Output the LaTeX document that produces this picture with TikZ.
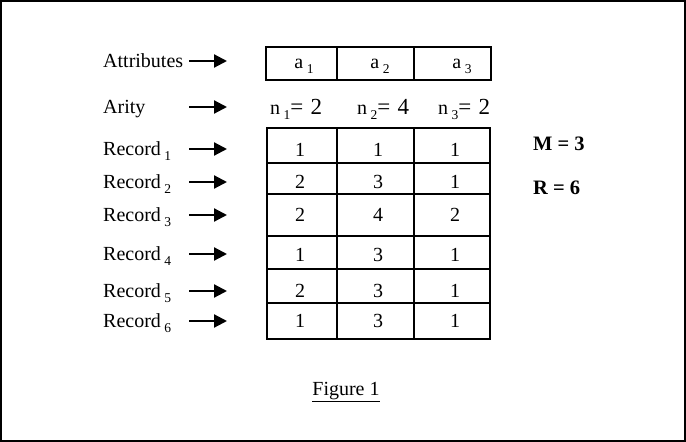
\documentclass[tikz,border=0pt]{standalone}
\usepackage{fontspec}
\setmainfont{Liberation Serif}
\usetikzlibrary{arrows.meta}
\newcommand{\mysub}[1]{\kern3.5pt\raisebox{-5.5pt}{\fontsize{13.5}{14}\selectfont #1}}
\newcommand{\myeq}[1]{{\fontsize{23}{23}\selectfont = \kern1.5pt#1}}
\tikzset{
  txt/.style={inner sep=0pt, font=\fontsize{20}{22}\selectfont},
  lbl/.style={txt, anchor=base west},
  val/.style={txt, anchor=base},
  arr/.style={line width=2.2pt, -{Triangle[length=13pt,width=13pt]}},
  thin/.style={line width=1.1pt},
  thick2/.style={line width=1.8pt},
}
\begin{document}
\begin{tikzpicture}[x=1pt,y=-1pt]
\useasboundingbox (0,0) rectangle (686,442);
\draw[line width=1.5pt] (0.75,0.75) rectangle (685,441);

% left labels
\node[lbl] (lA) at (103,67) {Attributes};
\node[lbl] (lN) at (103,113) {Arity};
\node[lbl] (l1) at (103,155) {Record\mysub{1}};
\node[lbl] (l2) at (103,188) {Record\mysub{2}};
\node[lbl] (l3) at (103,221) {Record\mysub{3}};
\node[lbl] (l4) at (103,260) {Record\mysub{4}};
\node[lbl] (l5) at (103,297) {Record\mysub{5}};
\node[lbl] (l6) at (103,327) {Record\mysub{6}};

% arrows
\foreach \n/\y in {A/61,N/107,1/149,2/182,3/215,4/254,5/291,6/321}{
  \coordinate (s\n) at (189,\y);
  \coordinate (e\n) at (227,\y);
  \draw[arr] (s\n) -- (e\n);
}

% attribute table
\draw[thin] (266,47) rectangle (491,80);
\draw[thick2] (266,80) -- (491,80);
\draw[thin] (337,47) -- (337,80);
\draw[thin] (414,47) -- (414,80);
\node[val] (a1) at (304,68) {a\mysub{1}};
\node[val] (a2) at (380,68) {a\mysub{2}};
\node[val] (a3) at (462,68) {a\mysub{3}};

% arity
\node[lbl] (n1) at (270,114) {n\mysub{1}\myeq{2}};
\node[lbl] (n2) at (357,114) {n\mysub{2}\myeq{4}};
\node[lbl] (n3) at (438,114) {n\mysub{3}\myeq{2}};

% data table
\draw[thin] (267,128) rectangle (490,339);
\draw[thick2] (267,128) -- (490,128);
\draw[thick2] (267,339) -- (490,339);
\draw[thin] (267,163) -- (490,163);
\draw[thin] (267,194) -- (490,194);
\draw[thin] (267,236) -- (490,236);
\draw[thick2] (267,269) -- (490,269);
\draw[thin] (267,303) -- (490,303);
\draw[thin] (337,128) -- (337,339);
\draw[thin] (414,128) -- (414,339);

\foreach \r/\y/\a/\b/\c in {1/156/1/1/1, 2/188/2/3/1, 3/221/2/4/2, 4/261/1/3/1, 5/297/2/3/1, 6/327/1/3/1}{
  \node[val] (c\r a) at (300,\y) {\a};
  \node[val] (c\r b) at (378,\y) {\b};
  \node[val] (c\r c) at (455,\y) {\c};
}

% M and R
\node[lbl, font=\fontsize{20.5}{22}\selectfont\bfseries] (M) at (533,150) {M = 3};
\node[lbl, font=\fontsize{20.5}{22}\selectfont\bfseries] (R) at (533,194) {R = 6};

% caption
\node[val] (fig) at (346,395) {\underline{Figure 1}};
\end{tikzpicture}
\end{document}
